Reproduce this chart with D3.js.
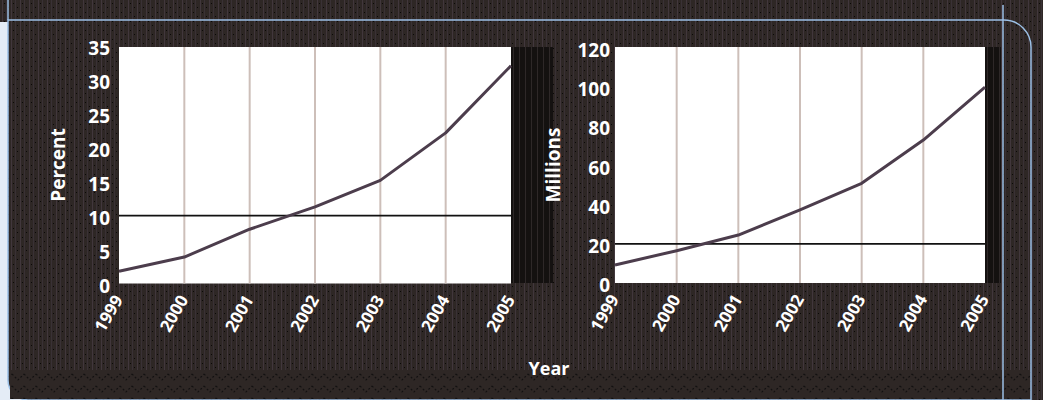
<!DOCTYPE html>
<html>
<head>
<meta charset="utf-8">
<script src="https://cdn.jsdelivr.net/npm/d3@7"></script>
<style>
    body { margin: 0; background: #2c2523; }
    svg text { font-family: "Open Sans", sans-serif; font-weight: 700; fill: #fff; }
</style>
</head>
<body>
<svg id="chart" width="1043" height="400"></svg>
<script>
// data
var years = [1999, 2000, 2001, 2002, 2003, 2004, 2005];
var percentValues = [1.8, 3.9, 8.0, 11.3, 15.2, 22.2, 32.1];
var millionsValues = [9.2, 16.5, 24.5, 37.3, 50.9, 73.0, 100.0];
var percentTicks = [0, 5, 10, 15, 20, 25, 30, 35];
var millionsTicks = [0, 20, 40, 60, 80, 100, 120];
var percentRef = 10;
var millionsRef = 20;

var svg = d3.select("#chart");
var defs = svg.append("defs");

// background texture, roughly like the scanned dark paper
var tex = defs.append("pattern")
    .attr("id", "tex").attr("width", 9).attr("height", 9)
    .attr("patternUnits", "userSpaceOnUse");
tex.append("rect").attr("width", 9).attr("height", 9).attr("fill", "#2e2725");
tex.append("rect").attr("x", 2).attr("width", 1).attr("height", 9).attr("fill", "#41373c");
tex.append("rect").attr("x", 6).attr("width", 1).attr("height", 9).attr("fill", "#393135");
tex.append("rect").attr("x", 4).attr("y", 3).attr("width", 1).attr("height", 1).attr("fill", "#0a0808");
tex.append("rect").attr("x", 8).attr("y", 7).attr("width", 1).attr("height", 1).attr("fill", "#0a0808");

var zig = defs.append("pattern")
    .attr("id", "zig").attr("width", 12).attr("height", 12)
    .attr("patternUnits", "userSpaceOnUse");
zig.append("rect").attr("width", 12).attr("height", 12).attr("fill", "#2e2725");
zig.append("path").attr("d", "M0,2 L6,8 L12,2").attr("fill", "none")
    .attr("stroke", "#121010").attr("stroke-width", 1.2).attr("stroke-dasharray", "2,2");

var dark = defs.append("pattern")
    .attr("id", "dark").attr("width", 6).attr("height", 6)
    .attr("patternUnits", "userSpaceOnUse");
dark.append("rect").attr("width", 6).attr("height", 6).attr("fill", "#141110");
dark.append("rect").attr("x", 3).attr("width", 1).attr("height", 6).attr("fill", "#2e2828");

// frame
svg.append("rect").attr("width", 1043).attr("height", 400).attr("fill", "url(#tex)");
svg.append("rect").attr("x", 0).attr("y", 22).attr("width", 8).attr("height", 378).attr("fill", "#e4ecf6");
svg.append("rect").attr("x", 0).attr("y", 385).attr("width", 40).attr("height", 15).attr("fill", "#e4ecf6");

var frame = d3.path();
frame.moveTo(8, 20);
frame.lineTo(1004, 20);
frame.arcTo(1031, 20, 1031, 48, 27);
frame.lineTo(1031, 400);
frame.lineTo(28, 400);
frame.arcTo(8, 400, 8, 380, 20);
frame.closePath();
svg.append("path").attr("d", frame.toString()).attr("fill", "url(#tex)")
    .attr("stroke", "#9cc0e6").attr("stroke-width", 1.5);
svg.append("rect").attr("x", 10).attr("y", 370).attr("width", 1020).attr("height", 29)
    .attr("fill", "url(#zig)");
svg.append("line").attr("x1", 8).attr("y1", 0).attr("x2", 8).attr("y2", 20)
    .attr("stroke", "#9cc0e6").attr("stroke-width", 1.5);
svg.append("line").attr("x1", 1003).attr("y1", 5).attr("x2", 1003).attr("y2", 400)
    .attr("stroke", "#9cc0e6").attr("stroke-width", 1.5);

// darker bands beside the plots
svg.append("rect").attr("x", 511).attr("y", 47).attr("width", 42).attr("height", 236).attr("fill", "url(#dark)");
svg.append("rect").attr("x", 985).attr("y", 47).attr("width", 16).attr("height", 236).attr("fill", "url(#dark)");

var panels = [
    {x0: 119, x1: 511, y0: 283.5, y1: 46, ticks: percentTicks, values: percentValues,
     ref: percentRef, title: "Percent", titleX: 65, pad: 9},
    {x0: 615, x1: 985, y0: 283, y1: 48, ticks: millionsTicks, values: millionsValues,
     ref: millionsRef, title: "Millions", titleX: 560, pad: 5}
];

panels.forEach(function(p) {
    var x = d3.scaleLinear().domain([years[0], years[years.length - 1]]).range([p.x0, p.x1]);
    var y = d3.scaleLinear().domain([0, p.ticks[p.ticks.length - 1]]).range([p.y0, p.y1]);

    var g = svg.append("g");

    g.append("rect")
        .attr("x", p.x0).attr("y", 47)
        .attr("width", p.x1 - p.x0).attr("height", p.y0 - 47)
        .attr("fill", "#fff");

    // vertical grid lines at the inner years
    g.selectAll(".grid")
        .data(years.slice(1, -1))
      .enter().append("line")
        .attr("x1", function(d) { return x(d); })
        .attr("x2", function(d) { return x(d); })
        .attr("y1", 47).attr("y2", p.y0)
        .attr("stroke", "#cdbfb9").attr("stroke-width", 2);

    // reference line
    g.append("line")
        .attr("x1", p.x0).attr("x2", p.x1)
        .attr("y1", y(p.ref)).attr("y2", y(p.ref))
        .attr("stroke", "#111").attr("stroke-width", 1.6);

    var line = d3.line()
        .x(function(d, i) { return x(years[i]); })
        .y(function(d) { return y(d); });

    g.append("path")
        .datum(p.values)
        .attr("d", line)
        .attr("fill", "none")
        .attr("stroke", "#4c3d4c")
        .attr("stroke-width", 3)
        .attr("stroke-linejoin", "round");

    // y axis labels
    var yAxis = g.append("g")
        .attr("transform", "translate(" + p.x0 + ",0)")
        .call(d3.axisLeft(y).tickValues(p.ticks).tickSize(0).tickPadding(p.pad));
    yAxis.select(".domain").remove();
    yAxis.selectAll("text")
        .attr("dy", "0.45em")
        .style("font-size", "19px")
        .attr("fill", "#fff");

    // x axis labels, rotated
    var xAxis = g.append("g")
        .attr("transform", "translate(0," + p.y0 + ")")
        .call(d3.axisBottom(x).tickValues(years).tickFormat(d3.format("d")).tickSize(0));
    xAxis.select(".domain").remove();
    xAxis.selectAll("text")
        .attr("x", 0).attr("y", 0).attr("dy", 0)
        .attr("text-anchor", "end")
        .attr("transform", "translate(4,16) rotate(-60)")
        .style("font-size", "17px")
        .attr("fill", "#fff");

    svg.append("text")
        .attr("transform", "translate(" + p.titleX + ",165) rotate(-90)")
        .attr("text-anchor", "middle")
        .style("font-size", "19px")
        .text(p.title);
});

svg.append("text")
    .attr("x", 549).attr("y", 375)
    .attr("text-anchor", "middle")
    .style("font-size", "18px")
    .text("Year");
</script>
</body>
</html>
